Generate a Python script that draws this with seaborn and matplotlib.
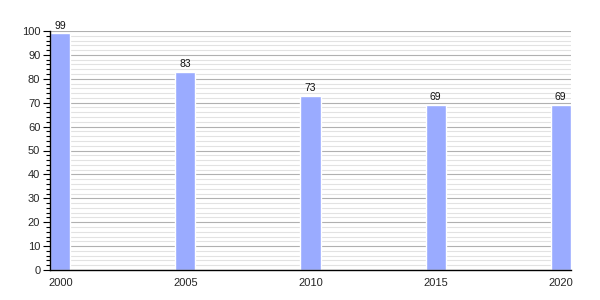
import matplotlib
matplotlib.use("Agg")
import matplotlib.pyplot as plt
import seaborn as sns
import pandas as pd
from matplotlib.ticker import MultipleLocator

years = ["2000", "2005", "2010", "2015", "2020"]
values = [99, 83, 73, 69, 69]

sns.set_style("white")
plt.rcParams['font.family'] = ['Liberation Sans', 'DejaVu Sans']

df = pd.DataFrame({"year": years, "value": values})

fig = plt.figure(figsize=(6, 3), dpi=100)
ax = fig.add_axes([50/600, 30/300, 521/600, 239/300])

ax.set_axisbelow(True)
ax.yaxis.set_major_locator(MultipleLocator(10))
ax.yaxis.set_minor_locator(MultipleLocator(2))
ax.grid(axis="y", which="major", color="#b0b0b0", linewidth=0.8)
ax.grid(axis="y", which="minor", color="#e2e2e2", linewidth=0.8)

sns.barplot(data=df, x="year", y="value", color="#9aabff", saturation=1,
            width=0.16, ax=ax, zorder=2)

for i, v in enumerate(values):
    ax.text(i, v + 1.2, str(v), ha="center", va="bottom", fontsize=7.5, color="#111111")

ax.set_xlim(-0.083, 4.083)
ax.set_ylim(0, 100)
ax.set_xlabel("")
ax.set_ylabel("")

for s in ["top", "right"]:
    ax.spines[s].set_visible(False)
ax.spines["left"].set_color("black")
ax.spines["bottom"].set_color("black")
ax.spines["left"].set_linewidth(1)
ax.spines["bottom"].set_linewidth(1)

ax.tick_params(axis="y", which="major", left=True, length=5, width=0.8, labelsize=8, color="black", pad=2)
ax.tick_params(axis="y", which="minor", left=True, length=3, width=0.8, color="black")
ax.tick_params(axis="x", bottom=False, labelsize=8, pad=2)

fig.savefig("out.png", dpi=100)
